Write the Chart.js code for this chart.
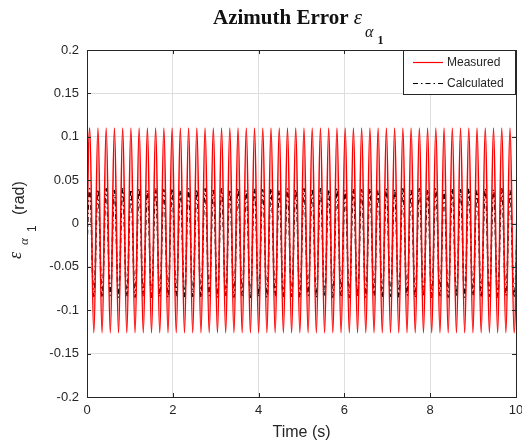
<!DOCTYPE html>
<html>
<head>
<meta charset="utf-8">
<script src="https://cdn.jsdelivr.net/npm/chart.js@4.4.1/dist/chart.umd.min.js"></script>
<style>
  html, body { margin: 0; padding: 0; background: #fff; }
  #wrap { width: 522px; height: 447px; position: relative; }
</style>
</head>
<body>
<div id="wrap"><canvas id="errChart"></canvas></div>
<script>
// Data
const seriesNames = ['Measured', 'Calculated'];
const xTicks = [0, 2, 4, 6, 8, 10];
const yTicks = [-0.2, -0.15, -0.1, -0.05, 0, 0.05, 0.1, 0.15, 0.2];

// oscillation timing (s): first crest and crest-to-crest spacing
const firstPeak = 0.063;
const period = 0.1921;

// crest / trough values (rad), one per cycle
const measuredPeaks = [
  0.110, 0.110, 0.110, 0.110, 0.110, 0.110, 0.110, 0.110, 0.110, 0.110,
  0.110, 0.110, 0.110, 0.110, 0.110, 0.110, 0.110, 0.110, 0.110, 0.110,
  0.110, 0.110, 0.110, 0.110, 0.110, 0.110, 0.110, 0.110, 0.110, 0.110,
  0.110, 0.110, 0.110, 0.110, 0.110, 0.110, 0.110, 0.110, 0.110, 0.110,
  0.110, 0.110, 0.110, 0.110, 0.110, 0.110, 0.110, 0.110, 0.110, 0.110,
  0.110, 0.110, 0.110
];
const measuredTroughs = [
  -0.126, -0.126, -0.126, -0.126, -0.126, -0.126, -0.126, -0.126, -0.126, -0.126,
  -0.126, -0.126, -0.126, -0.126, -0.126, -0.126, -0.126, -0.126, -0.126, -0.126,
  -0.126, -0.126, -0.126, -0.126, -0.126, -0.126, -0.126, -0.126, -0.126, -0.126,
  -0.126, -0.126, -0.126, -0.126, -0.126, -0.126, -0.126, -0.126, -0.126, -0.126,
  -0.126, -0.126, -0.126, -0.126, -0.126, -0.126, -0.126, -0.126, -0.126, -0.126,
  -0.126, -0.126, -0.126
];
const calculatedPeaks = [
  0.040, 0.039, 0.040, 0.038, 0.040, 0.039, 0.040, 0.038, 0.040, 0.039,
  0.040, 0.038, 0.040, 0.039, 0.040, 0.038, 0.040, 0.039, 0.040, 0.038,
  0.040, 0.039, 0.040, 0.038, 0.040, 0.039, 0.040, 0.038, 0.040, 0.039,
  0.040, 0.038, 0.040, 0.039, 0.040, 0.038, 0.040, 0.039, 0.040, 0.038,
  0.040, 0.039, 0.040, 0.038, 0.040, 0.039, 0.040, 0.038, 0.040, 0.039,
  0.040, 0.038, 0.040
];
const calculatedTroughs = [
  -0.085, -0.084, -0.085, -0.083, -0.085, -0.084, -0.085, -0.083, -0.085, -0.084,
  -0.085, -0.083, -0.085, -0.084, -0.085, -0.083, -0.085, -0.084, -0.085, -0.083,
  -0.085, -0.084, -0.085, -0.083, -0.085, -0.084, -0.085, -0.083, -0.085, -0.084,
  -0.085, -0.083, -0.085, -0.084, -0.085, -0.083, -0.085, -0.084, -0.085, -0.083,
  -0.085, -0.084, -0.085, -0.083, -0.085, -0.084, -0.085, -0.083, -0.085, -0.084,
  -0.085, -0.083, -0.085
];

// interleave troughs and crests into {x, y} points
function buildSeries(peaks, troughs) {
  const pts = [];
  for (let k = 0; k < peaks.length; k++) {
    const tp = firstPeak + k * period;
    pts.push({ x: tp - period / 2, y: troughs[k] });
    pts.push({ x: tp, y: peaks[k] });
  }
  return pts;
}

const TEXT = '#262626';
const SANS = '"Liberation Sans", Arial, sans-serif';
const SERIF = '"Liberation Serif", "Times New Roman", serif';

// frame, inward ticks and legend box (MATLAB look)
const axesBox = {
  id: 'axesBox',
  afterDatasetsDraw(chart) {
    const { ctx, chartArea: a, scales } = chart;
    ctx.save();
    ctx.strokeStyle = TEXT;
    ctx.lineWidth = 1;
    ctx.strokeRect(Math.round(a.left) + 0.5, Math.round(a.top) + 0.5,
      Math.round(a.right - a.left), Math.round(a.bottom - a.top));
    ctx.beginPath();
    for (const v of xTicks) {
      const x = Math.round(scales.x.getPixelForValue(v)) + 0.5;
      ctx.moveTo(x, a.bottom); ctx.lineTo(x, a.bottom - 4);
      ctx.moveTo(x, a.top); ctx.lineTo(x, a.top + 4);
    }
    for (const v of yTicks) {
      const y = Math.round(scales.y.getPixelForValue(v)) + 0.5;
      ctx.moveTo(a.left, y); ctx.lineTo(a.left + 4, y);
      ctx.moveTo(a.right, y); ctx.lineTo(a.right - 4, y);
    }
    ctx.stroke();

    // legend
    const bx = 403.5, by = 50.5, bw = 112, bh = 44;
    ctx.fillStyle = '#fff';
    ctx.fillRect(bx, by, bw, bh);
    ctx.strokeRect(bx, by, bw, bh);
    const rows = [62.5, 83.5];
    chart.data.datasets.forEach((ds, i) => {
      ctx.beginPath();
      ctx.strokeStyle = ds.borderColor;
      ctx.lineWidth = 1.2;
      ctx.setLineDash(ds.borderDash || []);
      ctx.moveTo(413, rows[i]); ctx.lineTo(443, rows[i]);
      ctx.stroke();
      ctx.setLineDash([]);
      ctx.fillStyle = TEXT;
      ctx.font = '12px ' + SANS;
      ctx.textBaseline = 'middle';
      ctx.textAlign = 'left';
      ctx.fillText(ds.label, 447, rows[i] + 0.5);
    });
    ctx.restore();
  },
  afterDraw(chart) {
    const { ctx } = chart;
    ctx.save();
    ctx.fillStyle = '#111';
    ctx.textBaseline = 'alphabetic';
    ctx.textAlign = 'left';
    // title: Azimuth Error eps_{alpha_1}
    ctx.font = 'bold 21px ' + SERIF;
    const t1 = 'Azimuth Error ';
    let x = 213;
    ctx.fillText(t1, x, 24);
    x += ctx.measureText(t1).width;
    ctx.font = 'italic 21px ' + SERIF;
    ctx.fillText('\u03B5', x, 24);
    x += ctx.measureText('\u03B5').width + 3;
    ctx.font = 'italic 16px ' + SERIF;
    ctx.fillText('\u03B1', x, 37);
    x += ctx.measureText('\u03B1').width + 4;
    ctx.font = 'bold 12px ' + SERIF;
    ctx.fillText('1', x, 44);

    // y label, rotated
    ctx.translate(21, 259);
    ctx.rotate(-Math.PI / 2);
    ctx.fillStyle = TEXT;
    ctx.font = 'italic 18px ' + SERIF;
    ctx.fillText('\u03B5', 0, 0);
    ctx.font = 'italic 13px ' + SERIF;
    ctx.fillText('\u03B1', 14, 7);
    ctx.font = '12px ' + SANS;
    ctx.fillText('1', 27, 15);
    ctx.font = '16px ' + SANS;
    ctx.fillText('(rad)', 44, 3);
    ctx.restore();
  }
};

new Chart(document.getElementById('errChart').getContext('2d'), {
  type: 'line',
  data: {
    datasets: [
      {
        label: seriesNames[0],
        data: buildSeries(measuredPeaks, measuredTroughs),
        borderColor: '#ff0000',
        borderWidth: 1.6,
        pointRadius: 0,
        tension: 0.4,
        fill: false
      },
      {
        label: seriesNames[1],
        data: buildSeries(calculatedPeaks, calculatedTroughs),
        borderColor: '#000000',
        borderWidth: 1.5,
        borderDash: [5, 3, 1.5, 3],
        pointRadius: 0,
        tension: 0.4,
        fill: false
      }
    ]
  },
  options: {
    responsive: true,
    maintainAspectRatio: false,
    animation: false,
    layout: { padding: { top: 50, left: 0, right: 6, bottom: 0 } },
    plugins: {
      legend: { display: false },
      tooltip: { enabled: false },
      title: { display: false }
    },
    scales: {
      x: {
        type: 'linear',
        min: 0,
        max: 10,
        afterBuildTicks: s => { s.ticks = xTicks.map(v => ({ value: v })); },
        afterFit: s => { s.height = 50; s.paddingLeft = 0; s.paddingRight = 0; },
        ticks: { color: TEXT, font: { family: SANS, size: 13 }, padding: 6, maxRotation: 0, autoSkip: false },
        grid: { color: '#dedede', drawTicks: false },
        border: { display: false },
        title: { display: true, text: 'Time (s)', color: TEXT, font: { family: SANS, size: 16 }, padding: { top: 0, bottom: 5 } }
      },
      y: {
        min: -0.2,
        max: 0.2,
        afterBuildTicks: s => { s.ticks = yTicks.map(v => ({ value: v })); },
        afterFit: s => { s.width = 87; },
        ticks: {
          color: TEXT,
          font: { family: SANS, size: 13 },
          padding: 8,
          callback: v => String(Math.round(v * 100) / 100)
        },
        grid: { color: '#dedede', drawTicks: false },
        border: { display: false }
      }
    }
  },
  plugins: [axesBox]
});
</script>
</body>
</html>
